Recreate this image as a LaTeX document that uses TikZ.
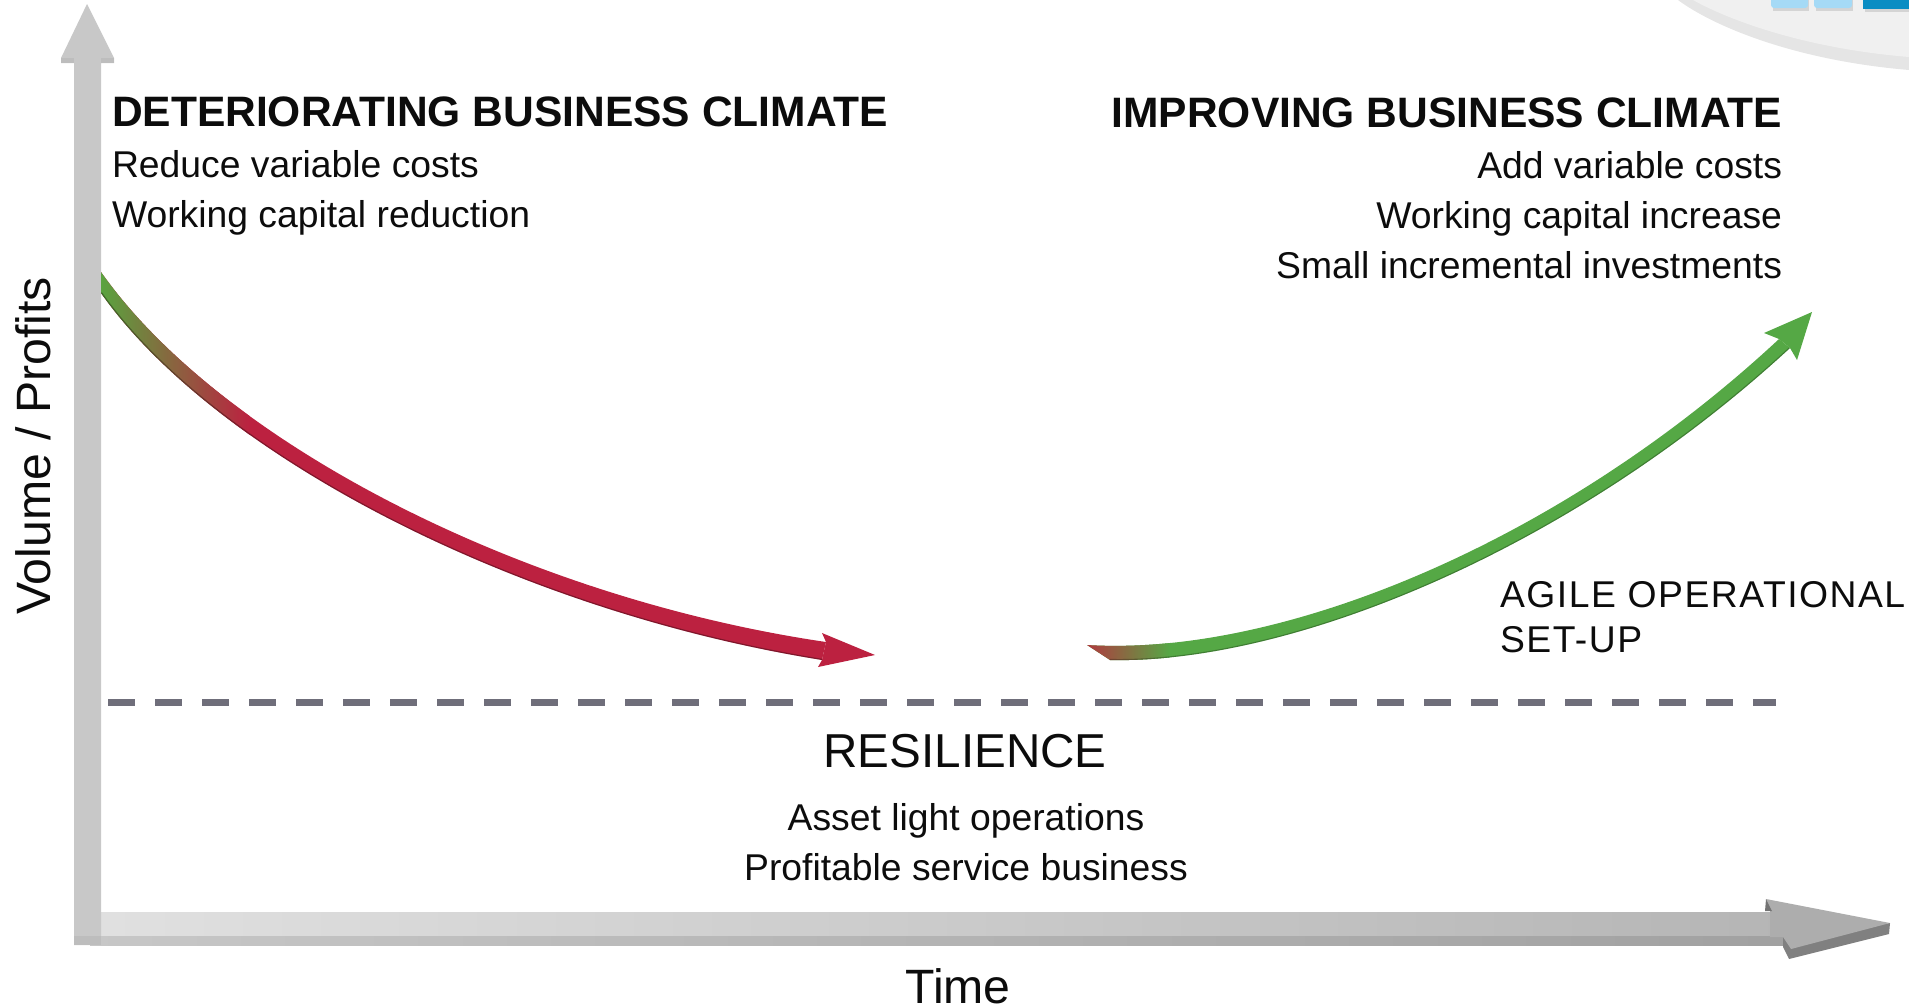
\documentclass[tikz,border=0pt]{standalone}
\usepackage{fontspec}
\setmainfont{Liberation Sans}
\definecolor{ink}{HTML}{0C0C0C}
\definecolor{axisgray}{HTML}{C8C8C8}
\definecolor{axisdark}{HTML}{BDBDBD}
\definecolor{arrred}{HTML}{BC2140}
\definecolor{arrgreen}{HTML}{55A845}
\definecolor{startgreen}{HTML}{5AA33F}
\definecolor{startred}{HTML}{B03A3F}
\definecolor{dashgray}{HTML}{6F6E7A}
\definecolor{tilelight}{HTML}{A5DAF6}
\definecolor{tiledark}{HTML}{0A8DC3}
\tikzset{
  txt/.style={inner sep=0pt,outer sep=0pt,text=ink,font=\fontsize{18.65pt}{22pt}\selectfont},
  headtxt/.style={inner sep=0pt,outer sep=0pt,text=ink,font=\fontsize{21.27pt}{25pt}\selectfont\bfseries},
  bigtxt/.style={inner sep=0pt,outer sep=0pt,text=ink,font=\fontsize{23.8pt}{28pt}\selectfont},
  axistxt/.style={inner sep=0pt,outer sep=0pt,text=ink,font=\fontsize{24.1pt}{28pt}\selectfont},
}
\def\redshape{(101,272) .. controls (220,441) and (520,597) .. (826,642) -- (822,660) .. controls (510,610) and (213,452) .. (101,293) -- cycle}
\def\redlower{(822,660) .. controls (510,610) and (213,452) .. (101,293)}
\def\grnshape{(1087,645) .. controls (1280,657) and (1560,543) .. (1779,339) -- (1790,348) .. controls (1570,551) and (1290,664) .. (1110,660) -- cycle}
\def\grnlower{(1790,348) .. controls (1570,551) and (1290,664) .. (1110,660)}
\begin{document}
\begin{tikzpicture}[x=0.5pt,y=-0.5pt]
\useasboundingbox (0,0) rectangle (1909,1007);
% dish top right
\fill[black!10] (1678,0) .. controls (1710,24) and (1790,60) .. (1909,70) -- (1909,0) -- cycle;
\fill[black!6] (1693,0) .. controls (1725,18) and (1800,48) .. (1909,57) -- (1909,0) -- cycle;
\fill[black!17] (1773,0) rectangle (1809,11);
\fill[black!17] (1816,0) rectangle (1853,11);
\fill[black!17] (1865,0) rectangle (1909,12);
\fill[tilelight,rounded corners=1.5pt] (1771,-8) rectangle (1808,8);
\fill[tilelight,rounded corners=1.5pt] (1814,-8) rectangle (1852,8);
\fill[tiledark] (1863,-8) rectangle (1915,9);
% x axis
\shade[left color=black!12,right color=black!29] (90,912) rectangle (1785,936);
\shade[left color=black!22,right color=black!37] (90,936) rectangle (1785,945);
\fill[black!50] (1890,923) -- (1889,934) -- (1789,959) -- (1783,947) -- (1783,937) -- cycle;
\fill[black!32] (1766,899) -- (1890,923) -- (1791,949) -- (1783,937) -- (1770,937) -- (1770,911) -- (1772,911) -- cycle;
\fill[black!55] (1766,899) -- (1772,911) -- (1765,911) -- cycle;
% y axis
\fill[axisgray] (87,4) -- (114,58) -- (114,63) -- (101,63) -- (101,945) -- (74,945) -- (74,63) -- (61,63) -- (61,58) -- cycle;
\fill[axisdark] (61,58) rectangle (74,63);
\fill[axisdark] (101,58) rectangle (114,63);
\fill[axisdark] (74,936) rectangle (101,945);
% dashed line
\draw[dashgray,line width=3.5pt,dash pattern=on 13.5pt off 10pt] (108,702.5) -- (1776,702.5);
% red arrow
\fill[arrred] \redshape;
\begin{scope}
\clip \redshape;
\shade[left color=startgreen,right color=arrred] (101,262) rectangle (250,440);
\draw[black,line width=1.2pt,opacity=.32] \redlower;
\end{scope}
\fill[arrred] (875,655) -- (818,667) -- (822,660) -- (826,642) -- (822,633) -- cycle;
% green arrow
\fill[arrgreen] \grnshape;
\begin{scope}
\clip \grnshape;
\shade[left color=startred,right color=arrgreen] (1087,630) rectangle (1170,670);
\draw[black,line width=1.1pt,opacity=.25] \grnlower;
\end{scope}
\fill[arrgreen] (1812,312) -- (1797,360) -- (1790,348) -- (1779,339) -- (1764,333) -- cycle;
% texts
\node[headtxt,anchor=base west] (hleft) at (112,126) {DETERIORATING BUSINESS CLIMATE};
\node[txt,anchor=base west] (l1) at (112,177) {Reduce variable costs};
\node[txt,anchor=base west] (l2) at (112,227) {Working capital reduction};
\node[headtxt,anchor=base east] (hright) at (1782,127) {IMPROVING BUSINESS CLIMATE};
\node[txt,anchor=base east] (r1) at (1782,178) {Add variable costs};
\node[txt,anchor=base east] (r2) at (1782,228) {Working capital increase};
\node[txt,anchor=base east] (r3) at (1782,278) {Small incremental investments};
\node[txt,anchor=base west] (ag1) at (1500,607) {\addfontfeatures{LetterSpace=4}AGILE OPERATIONAL};
\node[txt,anchor=base west] (ag2) at (1500,652) {\addfontfeatures{LetterSpace=4}SET-UP};
\node[bigtxt,anchor=base] (res) at (965,767) {RESILIENCE};
\node[txt,anchor=base] (c1) at (966,830) {Asset light operations};
\node[txt,anchor=base] (c2) at (966,880) {Profitable service business};
\node[axistxt,anchor=base] (time) at (958,1003) {Time};
\node[axistxt,anchor=base,rotate=90] (vol) at (50,446) {Volume / Profits};
\end{tikzpicture}
\end{document}
